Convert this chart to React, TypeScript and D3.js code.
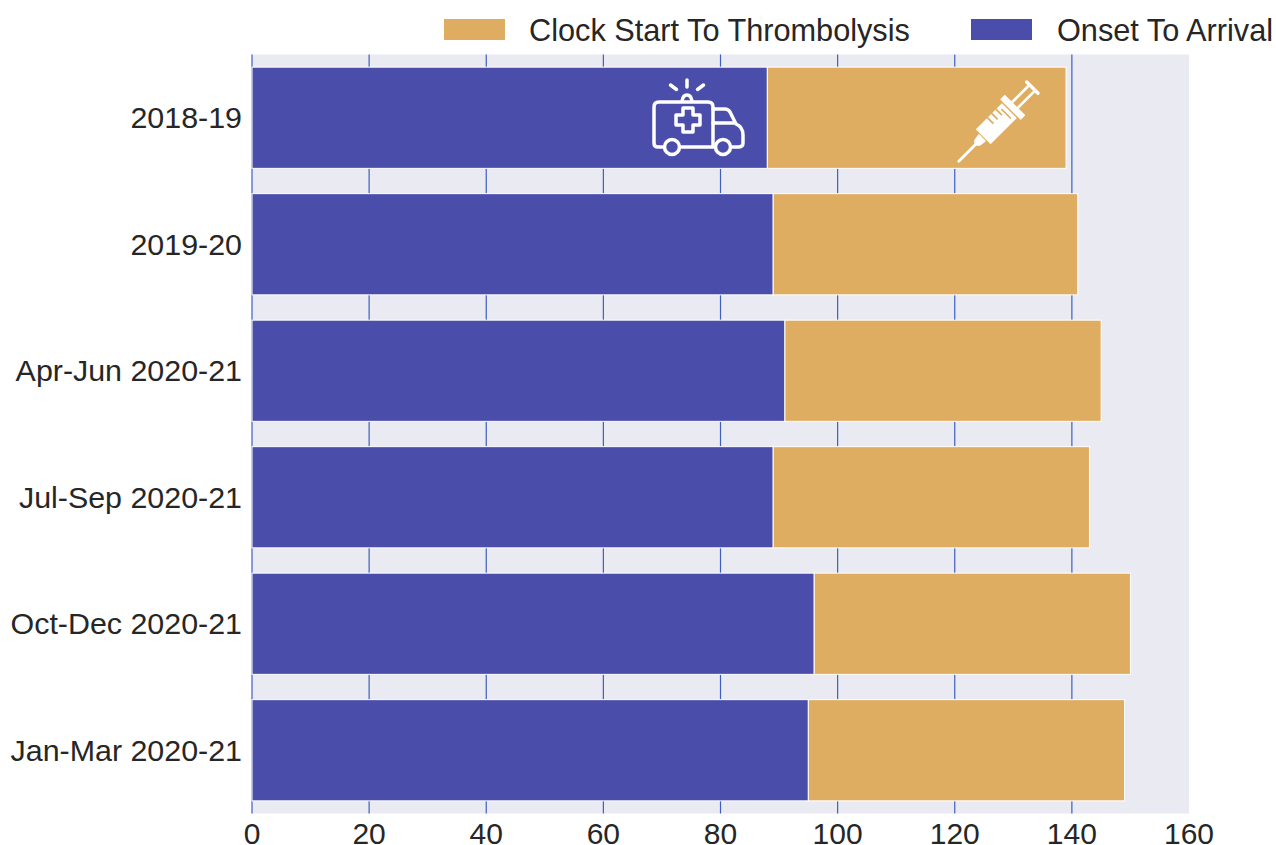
import React from "react";
import * as d3 from "d3";

const categories = ["2018-19", "2019-20", "Apr-Jun 2020-21", "Jul-Sep 2020-21", "Oct-Dec 2020-21", "Jan-Mar 2020-21"];
const onsetToArrival = [88, 89, 91, 89, 96, 95];
const clockStartToThrombolysis = [51, 52, 54, 54, 54, 54];
const xTicks = [0, 20, 40, 60, 80, 100, 120, 140, 160];
const legendLabels = ["Clock Start To Thrombolysis", "Onset To Arrival"];

const BLUE = "#4a4eaa";
const GOLD = "#dfad62";
const FONT = "'Liberation Sans', Arial, sans-serif";
const FS = 30.4;
const LEGEND_FS = 30.7;
const TICK_FS = 30;

const x = d3.scaleLinear().domain([0, 160]).range([252, 1189]);
const y = d3.scaleBand<string>().domain(categories).range([54.5, 813.5]).paddingInner(0.2).paddingOuter(0.1);

function Ambulance() {
  return (
    <g fill="none" stroke="#fff" strokeWidth={3.5} strokeLinecap="round" strokeLinejoin="round">
      <path d="M664 147 H658 Q654 147 654 143 V107 Q654 102 659 102 H708 Q713 102 713 107 V147 M681 147 H714" />
      <path d="M713 109 H725 Q728 109 730 112 L736 124 Q743 127 743 135 V143 Q743 147 738 147 H732" />
      <path d="M713 123 H734" />
      <circle cx={672} cy={147} r={7.5} />
      <circle cx={723} cy={147} r={7.5} />
      <path d="M682 101 Q683 95 687 95 Q691 95 692 101" />
      <path d="M687 80 V87 M670.5 85 L676.5 89.5 M703.5 85 L697.5 89.5" />
      <path d="M683 108 H693 V115 H700 V125 H693 V132 H683 V125 H676 V115 H683 Z" />
    </g>
  );
}

function Syringe() {
  return (
    <g transform="translate(997,123) rotate(45)" fill="#fff" stroke="#fff" strokeLinecap="round" strokeLinejoin="round">
      <path d="M0 54 V28" strokeWidth={2.8} fill="none" />
      <path d="M-4.5 21 L4.5 21 L3.5 28 L0 31 L-3.5 28 Z" strokeWidth={1} />
      <rect x={-10} y={-17} width={20} height={36} strokeWidth={1} />
      <path d="M-11 -9 H-2 M-11 -3 H-2 M-11 3 H-2" stroke={GOLD} strokeWidth={1.8} fill="none" strokeLinecap="butt" />
      <rect x={-14} y={-25} width={28} height={5.5} strokeWidth={1} />
      <path d="M-6 -13 H6" stroke={GOLD} strokeWidth={1.6} fill="none" />
      <path d="M-4 -25 V-48 M4 -25 V-48" strokeWidth={2.6} fill="none" />
      <path d="M-8 -50 H8" strokeWidth={3.4} fill="none" />
    </g>
  );
}

export default function App() {
  return (
    <svg width={1276} height={845} style={{ position: "absolute", left: 0, top: 0, background: "#fff" }} fontFamily={FONT}>
      <rect x={x(0)} y={54.5} width={x(160) - x(0)} height={759} fill="#eaeaf2" />
      {xTicks.slice(0, -1).map((t) => (
        <line key={t} x1={x(t)} x2={x(t)} y1={54.5} y2={813.5} stroke="#3f5fc0" strokeWidth={1.2} />
      ))}
      {categories.map((c, i) => {
        const by = y(c)!;
        const bh = y.bandwidth();
        return (
          <g key={c}>
            <rect x={x(0)} y={by} width={x(onsetToArrival[i]) - x(0)} height={bh} fill={BLUE} stroke="#fff" strokeWidth={1} />
            <rect x={x(onsetToArrival[i])} y={by} width={x(onsetToArrival[i] + clockStartToThrombolysis[i]) - x(onsetToArrival[i])} height={bh} fill={GOLD} stroke="#fff" strokeWidth={1} />
            <text x={242} y={by + bh / 2} dy="0.35em" textAnchor="end" fontSize={FS} fill="#262626">{c}</text>
          </g>
        );
      })}
      {xTicks.map((t) => (
        <text key={t} x={x(t)} y={844} textAnchor="middle" fontSize={TICK_FS} fill="#262626">{t}</text>
      ))}
      <rect x={444} y={19} width={61} height={21} fill={GOLD} />
      <text x={529} y={40.5} fontSize={LEGEND_FS} fill="#262626">{legendLabels[0]}</text>
      <rect x={971} y={19} width={61} height={21} fill={BLUE} />
      <text x={1057} y={40.5} fontSize={LEGEND_FS} fill="#262626">{legendLabels[1]}</text>
      <Ambulance />
      <Syringe />
    </svg>
  );
}
